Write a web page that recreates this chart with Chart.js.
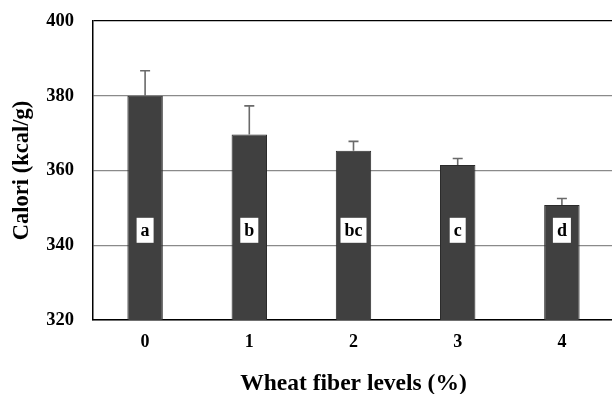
<!DOCTYPE html>
<html>
<head>
<meta charset="utf-8">
<script src="https://cdn.jsdelivr.net/npm/chart.js@4"></script>
<style>
  html, body { margin: 0; padding: 0; background: #fff; overflow: hidden; }
  #wrap { width: 616px; height: 394px; }
</style>
</head>
<body>
<div id="wrap"><canvas id="myChart" width="616" height="394"></canvas></div>
<script>
// data
const levels = ['0', '1', '2', '3', '4'];
const calori = [380.0, 369.6, 365.3, 361.5, 350.8];
const sdUpper = [6.7, 7.7, 2.5, 1.7, 1.7];
const letters = ['a', 'b', 'bc', 'c', 'd'];
const yTicks = [320, 340, 360, 380, 400];

const serif = '"Liberation Serif", "Times New Roman", serif';

// error bars (upper half only) drawn on top of the bars
const errorBars = {
    id: 'errorBars',
    afterDatasetsDraw(chart) {
        const ctx = chart.ctx;
        const x = chart.scales.x, y = chart.scales.y;
        ctx.save();
        ctx.strokeStyle = '#6a6a6a';
        ctx.lineWidth = 1.6;
        calori.forEach((v, i) => {
            const px = x.getPixelForValue(i);
            const top = y.getPixelForValue(v + sdUpper[i]);
            const base = y.getPixelForValue(v);
            ctx.beginPath();
            ctx.moveTo(px, base);
            ctx.lineTo(px, top);
            ctx.moveTo(px - 5, top);
            ctx.lineTo(px + 5, top);
            ctx.stroke();
        });
        ctx.restore();
    }
};

// significance letters in white boxes
const letterBoxes = {
    id: 'letterBoxes',
    afterDatasetsDraw(chart) {
        const ctx = chart.ctx;
        const x = chart.scales.x, y = chart.scales.y;
        ctx.save();
        ctx.font = 'bold 18px ' + serif;
        ctx.textAlign = 'center';
        ctx.textBaseline = 'middle';
        const cy = y.getPixelForValue(344);
        letters.forEach((t, i) => {
            const px = x.getPixelForValue(i);
            const w = ctx.measureText(t).width + 8;
            ctx.fillStyle = '#fff';
            ctx.fillRect(px - w / 2, cy - 12.5, w, 25);
            ctx.fillStyle = '#000';
            ctx.fillText(t, px, cy + 1);
        });
        ctx.restore();
    }
};

const ctx = document.getElementById('myChart').getContext('2d');
new Chart(ctx, {
    type: 'bar',
    data: {
        labels: levels,
        datasets: [{
            data: calori,
            backgroundColor: '#404040',
            borderColor: '#2b2b2b',
            borderWidth: 1,
            barPercentage: 0.34,
            categoryPercentage: 1
        }]
    },
    options: {
        responsive: false,
        animation: false,
        layout: { padding: { top: 21, right: 2, bottom: 0, left: 0 } },
        plugins: {
            legend: { display: false },
            tooltip: { enabled: false }
        },
        scales: {
            x: {
                grid: { display: false, drawTicks: false },
                border: { display: true, color: '#000', width: 1.5 },
                ticks: {
                    color: '#000',
                    padding: 12,
                    font: { family: serif, size: 18, weight: 'bold' }
                },
                title: {
                    display: true,
                    text: 'Wheat fiber levels (%)',
                    color: '#000',
                    padding: { top: 0, bottom: -2 },
                    font: { family: serif, size: 23.5, weight: 'bold', lineHeight: 1 }
                },
                afterFit: s => {
                    s.height = 74;
                    s.paddingLeft = 0;
                    s.paddingRight = 0;
                }
            },
            y: {
                min: 320,
                max: 400,
                afterBuildTicks: s => { s.ticks = yTicks.map(v => ({ value: v })); },
                grid: {
                    drawTicks: false,
                    lineWidth: 1.2,
                    color: c => (c.tick && c.tick.value === 400) ? '#000' : '#8a8a8a'
                },
                border: { display: true, color: '#000', width: 1.5 },
                ticks: {
                    color: '#000',
                    padding: 19,
                    font: { family: serif, size: 18.5, weight: 'bold' }
                },
                title: {
                    display: true,
                    text: 'Calori (kcal/g)',
                    color: '#000',
                    padding: { top: 11, bottom: 0 },
                    font: { family: serif, size: 22.5, weight: 'bold', lineHeight: 1 }
                },
                afterFit: s => {
                    s.width = 93;
                    s.paddingTop = 0;
                    s.paddingBottom = 0;
                }
            }
        }
    },
    plugins: [errorBars, letterBoxes]
});
</script>
</body>
</html>
